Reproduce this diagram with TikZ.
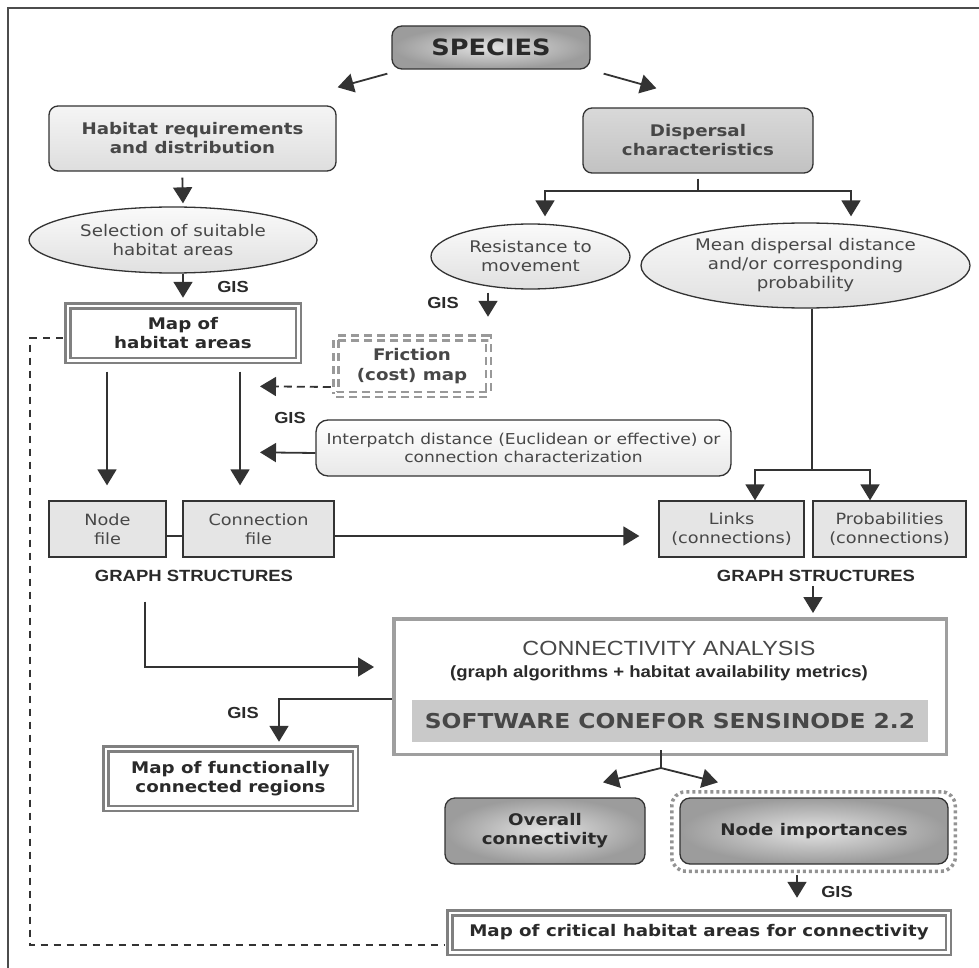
\documentclass[tikz,border=0pt]{standalone}
\usepackage{fontspec}
\setmainfont{DejaVu Sans}[FakeStretch=1.14,BoldFont={DejaVu Sans Bold},BoldFeatures={FakeStretch=1.14}]
\newfontfamily\arialf{Liberation Sans}[FakeStretch=1.14,BoldFont={Liberation Sans Bold},BoldFeatures={FakeStretch=1.14}]
\usetikzlibrary{shapes.geometric,arrows.meta,calc}
\definecolor{linec}{HTML}{333333}
\definecolor{txtc}{HTML}{474747}
\definecolor{darkt}{HTML}{2A2A2A}
\newcommand{\fsz}[2]{\fontsize{#1}{#2}\selectfont}
\begin{document}
\begin{tikzpicture}[x=1pt,y=-1pt,
  arr/.style={draw=linec,line width=1.8pt,-{Triangle[length=16pt,width=19pt]}},
  ln/.style={draw=linec,line width=1.8pt},
  lbox/.style={rectangle,rounded corners=9pt,draw=linec,line width=1.3pt,top color=gray!8,bottom color=gray!26,text=txtc,font=\fsz{16}{19}\bfseries,align=center,inner sep=0pt},
  mbox/.style={lbox,top color=gray!30,bottom color=gray!48},
  dbox/.style={rectangle,rounded corners=10pt,draw=linec,line width=1.3pt,inner color=gray!22,outer color=gray!78,text=darkt,font=\fsz{16}{19}\bfseries,align=center,inner sep=0pt},
  ell/.style={ellipse,draw=linec,line width=1.3pt,top color=gray!4,bottom color=gray!24,text=txtc,font=\fsz{16}{19},align=center,inner sep=0pt},
  fbox/.style={rectangle,draw=linec,line width=1.3pt,fill=gray!20,text=txtc,font=\fsz{15.5}{19},align=center,inner sep=0pt},
  dframe/.style={rectangle,draw=gray,double=white,double distance=2.5pt,line width=2.5pt,text=darkt,font=\fsz{16}{19}\bfseries,align=center,inner sep=0pt},
  fricbox/.style={dframe,draw=gray!80,dash pattern=on 8pt off 5pt,text=txtc},
  gis/.style={font=\arialf\bfseries\fsz{16}{20},text=darkt,inner sep=0pt},
  gsl/.style={font=\arialf\bfseries\fsz{16.2}{20},text=darkt,inner sep=0pt},
  dashln/.style={draw=linec,line width=1.5pt,dash pattern=on 7pt off 6pt}
]
\useasboundingbox (0,0) rectangle (979,968);
\fill[white] (0,0) rectangle (979,968);
\draw[line width=1.8pt,draw=gray!60!black] (8,968) -- (8,8) -- (979,8);

% nodes
\node[dbox,minimum width=198pt,minimum height=43pt,font=\fsz{22.5}{26}\bfseries] (species) at (491,47.5) {SPECIES};
\node[lbox,minimum width=287pt,minimum height=65pt] (habreq) at (192.5,138.5) {Habitat requirements\\and distribution};
\node[ell,minimum width=288pt,minimum height=66pt] (sel) at (173,240) {Selection of suitable\\habitat areas};
\node[dframe,minimum width=230.5pt,minimum height=54.5pt] (maphab) at (183,333) {Map of\\habitat areas};
\node[mbox,minimum width=230pt,minimum height=65pt] (disp) at (698,140.5) {Dispersal\\characteristics};
\node[ell,minimum width=199pt,minimum height=65pt] (resist) at (530.5,256.5) {Resistance to\\movement};
\node[ell,minimum width=329pt,minimum height=85pt] (mean) at (805.5,265.5) {Mean dispersal distance\\and/or corresponding\\probability};
\node[fricbox,minimum width=152.5pt,minimum height=56.5pt,font=\fsz{16}{20}\bfseries] (fric) at (412,366) {Friction\\(cost) map};
\node[lbox,rounded corners=12pt,top color=white,bottom color=gray!18,font=\fsz{15}{18},minimum width=415pt,minimum height=56pt] (interp) at (523.5,448) {Interpatch distance (Euclidean or effective) or\\connection characterization};
\node[fbox,minimum width=117pt,minimum height=56pt] (nodefile) at (107.5,529) {Node\\file};
\node[fbox,minimum width=151pt,minimum height=56pt] (connfile) at (258.5,529) {Connection\\file};
\node[fbox,minimum width=145pt,minimum height=56pt] (links) at (731.5,529) {Links\\(connections)};
\node[fbox,minimum width=153pt,minimum height=56pt] (probs) at (889.5,529) {Probabilities\\(connections)};
\node[gsl] (gs1) at (194,576) {GRAPH STRUCTURES};
\node[gsl] (gs2) at (816,576) {GRAPH STRUCTURES};
\node[rectangle,draw=gray!75,line width=3.5pt,fill=white,minimum width=552.5pt,minimum height=135.5pt,inner sep=0pt] (conn) at (670,686.5) {};
\node[font=\arialf\fsz{20.5}{24},text=txtc,inner sep=0pt] (cat) at (669,648) {CONNECTIVITY ANALYSIS};
\node[font=\arialf\bfseries\fsz{16.3}{19},text=darkt,inner sep=0pt] (csub) at (659,673) {(graph algorithms + habitat availability metrics)};
\node[rectangle,fill=gray!42,minimum width=516pt,minimum height=42pt,inner sep=0pt,text=txtc,font=\fsz{20.5}{24}\bfseries] (sw) at (670,721) {SOFTWARE CONEFOR SENSINODE 2.2};
\node[dframe,minimum width=249.5pt,minimum height=59.5pt] (mapfunc) at (230.5,778.5) {Map of functionally\\connected regions};
\node[dbox,minimum width=200pt,minimum height=66pt] (overall) at (545,831) {Overall\\connectivity};
\node[dbox,minimum width=268pt,minimum height=66pt] (nodeimp) at (814,831) {Node importances};
\node[rectangle,rounded corners=14pt,draw=gray!85,line width=3.5pt,dash pattern=on 3pt off 3pt,minimum width=283.5pt,minimum height=79.5pt,inner sep=0pt] (nodeimpo) at (813.5,831.5) {};
\node[dframe,minimum width=498.5pt,minimum height=39.5pt] (mapcrit) at (699,932.5) {Map of critical habitat areas for connectivity};

% GIS labels
\node[gis] (g1) at (233,287) {GIS};
\node[gis] (g2) at (443,303) {GIS};
\node[gis] (g3) at (290,418) {GIS};
\node[gis] (g4) at (243,713) {GIS};
\node[gis] (g5) at (837,892) {GIS};

% connectors
\draw[arr] ($(species.south west)+(-4,4)$) -- ($(habreq.north east)+(1,-18)$);
\draw[arr] ($(species.south east)+(13,4)$) -- ($(disp.north west)+(74,-19)$);
\draw[arr] ($(habreq.south west)+(134,6)$) -- ($(sel.north)+(10,-3)$);
\draw[arr] ($(sel.south)+(10,0)$) -- ($(maphab.north)+(0,-6.75)$);
\draw[ln] ($(disp.south)+(0,5)$) -- ($(disp.south)+(0,17)$) coordinate (dj);
\draw[arr] (dj) -| ($(resist.north)+(14.5,-7)$);
\draw[arr] (dj) -| ($(mean.north)+(45.5,-6)$);
\draw[arr] ($(resist.south)+(-42.5,3)$) -- ($(fric.north)+(76,-19.75)$);
\draw[arr,dash pattern=on 8pt off 5pt] ($(fric.west)+(-3.75,21)$) -- ($(connfile.north)+(1.5,-114)$);
\draw[arr] ($(maphab.south)+(-76,10)$) -- ($(nodefile.north)+(-0.5,-15)$);
\draw[arr] ($(maphab.south)+(57,10)$) -- ($(connfile.north)+(-18.5,-15)$);
\draw[arr] ($(interp.west)+(0,5)$) -- ($(connfile.north)+(1.5,-48)$);
\draw[ln] ($(nodefile.east)+(0,7)$) -- ($(connfile.west)+(0,7)$);
\draw[arr] ($(connfile.east)+(0,7)$) -- ($(links.west)+(-19,7)$);
\draw[ln] ($(mean.south)+(6.5,0)$) -- ($(mean.south)+(6.5,161)$) coordinate (mj);
\draw[arr] (mj) -| ($(links.north)+(23.5,0)$);
\draw[arr] (mj) -| ($(probs.north)+(-19.5,0)$);
\draw[arr] ($(gs2.center)+(-3,10)$) -- ($(conn.north)+(143,-4)$);
\draw[arr] ($(nodefile.south)+(37.5,44)$) |- ($(conn.west)+(-18,-19.5)$);
\draw[arr] ($(conn.west)+(0,12.5)$) -| ($(mapfunc.north)+(48.5,-5.75)$);
\draw[ln] ($(conn.south)+(-9,-6)$) -- ($(conn.south)+(-9,12)$) coordinate (cj);
\draw[arr] (cj) -- ($(overall.north)+(58,-15)$);
\draw[arr] (cj) -- ($(nodeimp.north)+(-96,-15)$);
\draw[arr] ($(nodeimpo.south)+(-16.5,2)$) -- ($(mapcrit.north)+(98,-13.75)$);
\coordinate (dl) at (30,945);
\draw[dashln] ($(maphab.west)+(-4,5)$) -| (dl) -- ($(mapcrit.west)+(-4,12.5)$);
\end{tikzpicture}
\end{document}
